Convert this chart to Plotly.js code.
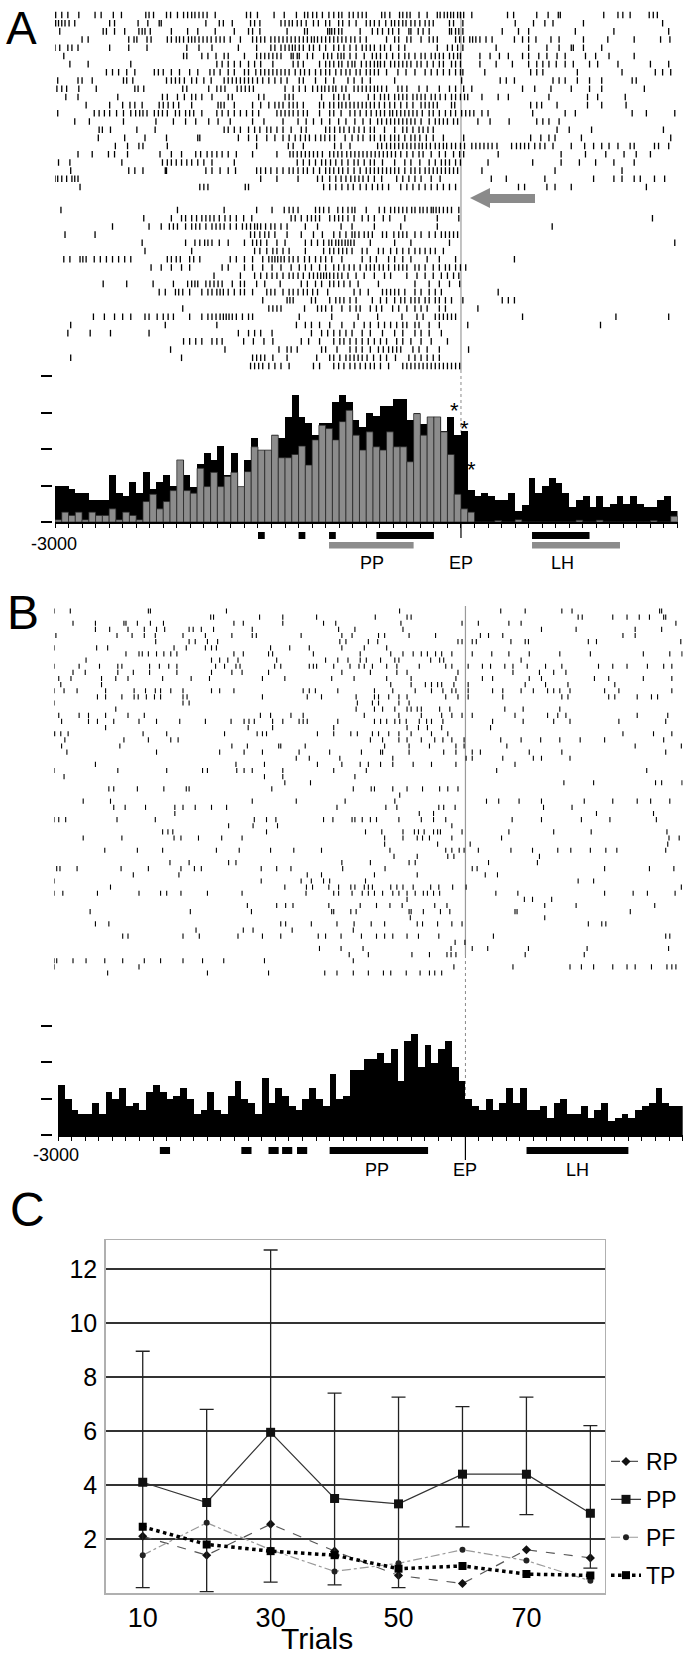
<!DOCTYPE html>
<html><head><meta charset="utf-8">
<script src="https://cdn.plot.ly/plotly-3.0.1.min.js"></script>
<style>html,body{margin:0;padding:0;background:#fff}#chart{width:685px;height:1658px}</style>
</head><body><div id="chart"></div>
<script>
// ---------------- DATA ----------------
const binStart = -3000, binWidth = 50;   // histogram bins (ms)
const histA_black = [9.9,9.9,9.0,7.9,7.9,5.9,5.9,5.9,12.9,7.9,7.0,10.9,7.9,13.8,9.0,10.9,12.9,9.9,17.0,12.9,
9.7,15.9,18.8,17.0,20.8,12.9,18.8,9.7,17.0,22.9,19.7,19.7,23.8,22.9,28.8,34.9,28.8,27.0,23.8,27.0,
27.0,32.9,34.9,32.9,27.9,26.1,29.9,29.1,31.8,31.8,33.8,33.8,27.9,29.9,26.8,28.8,28.8,24.9,28.8,23.8,
24.9,8.8,7.0,7.9,7.0,5.9,5.9,7.9,2.9,4.7,12.0,7.9,9.9,12.0,10.6,7.9,4.0,5.9,7.0,4.0,
7.0,4.0,4.9,7.0,4.9,7.0,4.9,4.0,4.0,5.9,7.0,2.9];
const histA_gray = [0.6,2.7,1.8,2.7,0.6,2.7,1.8,1.8,3.6,0.6,2.7,1.8,0.6,5.6,7.6,3.6,5.6,8.6,17.0,8.6,
7.9,14.7,9.7,13.6,9.7,12.5,13.6,9.7,13.8,20.6,19.7,19.7,23.8,17.6,17.6,18.5,20.8,15.6,22.5,26.5,
25.6,22.5,27.5,30.6,23.8,19.7,24.7,20.6,19.7,24.7,20.6,20.6,16.5,29.7,23.8,28.8,28.8,24.7,18.5,7.6,
3.6,2.7,0,0,0,0.4,0,0,0.6,0,0,0,0,0,0,0,0,0.5,0,0,
0.5,0,0,0,0,0,0,0,0.4,0,0,1.6];
const histB = [13.8,9.8,6.8,5.9,5.9,8.8,5.9,11.8,9.8,12.9,7.9,8.8,6.8,11.8,13.8,11.8,9.8,10.8,12.9,9.8,
5.9,6.8,11.8,6.8,5.9,10.8,14.8,9.8,8.8,5.9,15.8,8.8,12.9,10.8,7.9,6.8,9.8,12.9,9.8,7.9,
16.8,9.8,10.8,17.9,17.9,20.9,20.9,22.7,19.8,23.8,14.8,25.9,27.7,18.8,24.8,19.8,23.8,25.9,18.8,14.8,
9.8,7.9,6.8,9.8,6.8,8.8,12.9,8.8,12.9,6.8,6.8,7.9,4.8,8.8,9.8,5.9,5.9,7.9,4.8,6.8,
8.8,3.8,4.8,5.9,4.8,6.8,7.9,8.8,12.9,8.8,7.9,7.9];

// significance intervals (ms)
const sigA_black = [[-1500,-1450],[-1200,-1150],[-975,-925],[-625,-200],[525,950]];
const sigA_gray = [[-975,-350],[525,1175]];
const sigB = [[-2250,-2175],[-1650,-1575],[-1450,-1375],[-1350,-1275],[-1240,-1165],[-1000,-275],[450,1200]];

// raster spike times (ms from EP), one array per trial
const rasterA1 = [
[-2995,-2950,-2905,-2824,-2704,-2659,-2569,-2509,-2329,-2305,-2272,-2176,-2146,-2095,-2050,-2020,-1990,-1966,-1936,-1906,-1876,-1816,-1585,-1555,-1504,-1381,-1306,-1216,-1156,-1132,-1096,-1066,-1024,-976,-940,-904,-880,-826,-796,-760,-730,-700,-586,-562,-526,-454,-430,-400,-376,-310,-250,-175,-154,-124,-100,-76,-55,-25,-4,20,80,344,389,560,644,719,734,1055,1160,1196,1250,1391,1421,1451],
[-2995,-2974,-2950,-2926,-2896,-2854,-2596,-2560,-2386,-2314,-2230,-2215,-1885,-1786,-1756,-1690,-1555,-1525,-1486,-1330,-1300,-1270,-1246,-1210,-1180,-1144,-1090,-1054,-1000,-970,-904,-874,-826,-775,-700,-670,-640,-604,-556,-514,-490,-460,-430,-406,-370,-340,-304,-265,-235,-205,-85,-55,14,401,536,620,680,905,1490],
[-2965,-2644,-2620,-2560,-2485,-2380,-2356,-2335,-2296,-2140,-2020,-1945,-1816,-1675,-1570,-1540,-1486,-1285,-1156,-1135,-985,-970,-955,-934,-904,-880,-745,-655,-616,-580,-535,-505,-460,-385,-370,-316,-280,-235,-85,-70,-40,-16,14,305,425,500,845,1130,1535],
[-2800,-2755,-2455,-2416,-2395,-2320,-2290,-2170,-2140,-2104,-2080,-2050,-2014,-1990,-1966,-1936,-1906,-1876,-1846,-1810,-1780,-1750,-1705,-1630,-1540,-1510,-1480,-1450,-1405,-1375,-1345,-1315,-1285,-1255,-1225,-1195,-1165,-1135,-1105,-1084,-1060,-1030,-1000,-970,-940,-910,-880,-850,-814,-784,-745,-700,-550,-490,-460,-400,-370,-295,-235,-205,-175,-40,-10,20,65,86,110,140,185,230,395,455,500,554,665,725,905,1085,1280,1475,1544],
[-3000,-2965,-2905,-2875,-2830,-2596,-2455,-2320,-2026,-1936,-1840,-1645,-1510,-1405,-1375,-1330,-1300,-1270,-1246,-1225,-1195,-1165,-1120,-1090,-1045,-1000,-940,-904,-865,-820,-775,-730,-700,-670,-640,-595,-565,-520,-460,-415,-175,-100,-64,-25,14,260,500,635,725,815,830,905,1040],
[-2935,-2050,-2026,-1915,-1870,-1810,-1750,-1720,-1600,-1510,-1480,-1450,-1420,-1390,-1360,-1330,-1255,-1240,-1210,-1195,-1135,-1096,-1015,-985,-955,-910,-886,-865,-820,-775,-715,-655,-625,-595,-550,-505,-460,-415,-385,-340,-295,-265,-220,-190,-160,-130,-85,-55,-25,-4,140,215,284,350,455,500,575,635,710,770,920,995,1094,1280],
[-2890,-2755,-2440,-1804,-1765,-1720,-1675,-1630,-1570,-1525,-1480,-1390,-1240,-1204,-1165,-1045,-1000,-970,-940,-904,-880,-835,-805,-784,-736,-700,-670,-640,-616,-595,-565,-520,-490,-460,-430,-400,-370,-325,-295,-250,-205,-160,-130,-70,-40,-4,140,260,380,500,560,605,650,704,770,830,950,1010,1160,1400,1535],
[-2620,-2575,-2530,-2470,-2410,-2266,-2236,-2200,-2140,-2080,-2005,-1945,-1855,-1825,-1780,-1720,-1675,-1600,-1570,-1516,-1480,-1450,-1420,-1390,-1360,-1330,-1300,-1270,-1225,-1186,-1156,-1120,-1075,-1036,-1000,-970,-925,-886,-850,-820,-775,-745,-700,-670,-640,-610,-550,-466,-406,-340,-265,-220,-175,-130,-85,-40,-4,14,176,515,560,605,860,1190,1436,1490,1550],
[-2980,-2830,-2800,-2725,-2494,-2470,-2425,-2176,-2140,-2110,-2080,-2044,-1990,-1954,-1900,-1846,-1750,-1720,-1690,-1660,-1630,-1600,-1570,-1540,-1504,-1465,-1420,-1375,-1330,-1285,-1195,-1165,-1075,-1000,-940,-835,-790,-730,-670,-490,5,290,335,395,680,725,770,860,950,1040,1265,1295],
[-2986,-2950,-2914,-2824,-2695,-2410,-2386,-2344,-2056,-2026,-1864,-1804,-1774,-1744,-1654,-1624,-1594,-1564,-1534,-1300,-1240,-1195,-1150,-1096,-1060,-1030,-1006,-976,-946,-925,-880,-850,-790,-760,-730,-700,-670,-640,-616,-586,-550,-466,-436,-400,-310,-250,-160,-85,-40,20,80,455,545,665,815,950,1040,1355],
[-2920,-2830,-2536,-2206,-2170,-2095,-2044,-1990,-1960,-1915,-1840,-1720,-1690,-1495,-1456,-1300,-1270,-1240,-1030,-940,-904,-865,-826,-685,-640,-595,-565,-535,-490,-460,-430,-400,-355,-325,-295,-265,-220,-190,-154,-115,-70,-40,-4,26,50,155,275,350,650,935,1010,1214],
[-2770,-2596,-2500,-2446,-2410,-2356,-2230,-2200,-2164,-2125,-2086,-1990,-1795,-1774,-1750,-1675,-1540,-1480,-1420,-1375,-1345,-1315,-1270,-1240,-1210,-1165,-1045,-1015,-970,-940,-904,-880,-850,-820,-790,-760,-730,-700,-670,-640,-604,-565,-526,-490,-445,-400,-355,-295,-265,-235,-205,-175,-70,-46,515,560,596,710,935,1040,1220],
[-2980,-2710,-2674,-2635,-2596,-2545,-2494,-2440,-2404,-2374,-2350,-2320,-2266,-2236,-2206,-2170,-2110,-2080,-2035,-2005,-1975,-1915,-1804,-1765,-1720,-1675,-1630,-1585,-1540,-1495,-1360,-1330,-1300,-1270,-1240,-1204,-1165,-1135,-1045,-970,-940,-886,-820,-784,-745,-700,-664,-625,-595,-565,-526,-505,-475,-445,-415,-385,-355,-325,-286,-235,-205,-160,-115,-76,-40,5,35,65,95,155,200,530,770,845,1265,1370,1580],
[-2854,-2746,-2494,-2254,-2125,-2035,-1960,-1864,-1795,-1705,-1540,-1456,-1315,-1204,-1144,-1090,-1030,-970,-904,-850,-784,-724,-670,-616,-586,-550,-520,-490,-460,-430,-400,-370,-340,-295,-235,-190,-160,-130,-100,-55,-25,125,215,356,560,605,650,725],
[-2674,-2650,-2590,-2395,-2260,-1750,-1720,-1675,-1630,-1570,-1525,-1486,-1435,-1405,-1360,-1315,-1255,-1180,-1144,-1000,-970,-934,-895,-865,-826,-790,-754,-715,-670,-640,-565,-490,-430,-400,-355,-310,-280,-244,-205,710,800,965,1496],
[-2680,-2485,-2335,-2176,-1945,-1930,-1645,-1570,-1510,-1435,-1375,-1315,-1270,-1225,-1186,-1150,-1120,-1075,-1036,-1006,-970,-934,-856,-805,-760,-724,-670,-640,-595,-565,-520,-490,-460,-415,-370,-340,-304,-256,-205,-130,20,515,590,650,695,890,1550],
[-2554,-2464,-2380,-2350,-2170,-1510,-1276,-1240,-1165,-934,-886,-820,-616,-586,-550,-520,-490,-460,-430,-400,-370,-340,-310,-286,-256,-226,-190,-160,-130,-106,-70,-40,-4,26,80,110,140,170,200,230,266,374,410,440,470,500,545,584,620,680,815,914,980,1040,1094,1160,1250,1280,1430,1460,1535],
[-2830,-2725,-2605,-2560,-2464,-2224,-2140,-2065,-1960,-1924,-1876,-1840,-1804,-1765,-1720,-1660,-1540,-1360,-1264,-1240,-1210,-1180,-1150,-1120,-1090,-1060,-1024,-970,-940,-910,-880,-844,-814,-784,-754,-724,-694,-664,-634,-604,-574,-544,-514,-484,-445,-400,-355,-310,-280,-220,-160,-115,-55,-10,20,275,740,920,1070,1205,1295,1400],
[-2974,-2890,-2506,-2206,-2170,-2140,-2104,-2065,-2026,-1990,-1945,-1900,-1840,-1675,-1210,-1165,-1120,-1075,-1030,-1000,-964,-925,-880,-835,-790,-760,-715,-670,-640,-580,-490,-415,-370,-304,-235,-190,-145,-115,-85,-40,-4,200,530,740,875,995,1130,1280],
[-2884,-2455,-2410,-2350,-2185,-2176,-1885,-1840,-1780,-1720,-1666,-1510,-1480,-1444,-1405,-1360,-1315,-1270,-1240,-1204,-1165,-1135,-1090,-1045,-1000,-970,-940,-904,-874,-835,-790,-745,-700,-670,-640,-610,-580,-550,-520,-490,-460,-415,-370,-340,-304,-265,-235,-205,-175,-145,-115,-85,-55,-25,155,695,1190],
[-3000,-2980,-2950,-2914,-2875,-2854,-2830,-1480,-1360,-1204,-1060,-1024,-970,-925,-886,-850,-814,-784,-754,-724,-685,-640,-586,-475,-430,-385,-340,-295,-220,-154,224,335,620,980,1130,1190,1280,1325,1430,1505],
[-2815,-1930,-1900,-1870,-1594,-1570,-1015,-970,-925,-880,-835,-796,-745,-700,-655,-616,-580,-535,-445,-400,-355,-310,-265,-220,-175,-130,-85,-40,425,470,635,695,815,1370]
];
const rasterA2 = [
[-2956,-2095,-1750,-1510,-1396,-1306,-1270,-1240,-1204,-1075,-1045,-1015,-976,-910,-874,-835,-805,-784,-700,-604,-565,-520,-490,-460,-430,-400,-364,-340,-304,-280,-250,-220,-205,-184,-160,-130,-100,-70,-16],
[-2344,-2140,-2065,-2035,-1990,-1954,-1915,-1885,-1855,-1825,-1786,-1744,-1705,-1660,-1606,-1546,-1255,-1225,-1180,-1135,-1105,-1075,-1045,-970,-934,-904,-874,-835,-790,-730,-685,-640,-574,-526,-415,-175,-16,1415],
[-2575,-2305,-2215,-2155,-2125,-2095,-2035,-1990,-1960,-1930,-1885,-1840,-1810,-1780,-1750,-1705,-1660,-1615,-1585,-1555,-1525,-1504,-1480,-1444,-1405,-1375,-1330,-1285,-1150,-1060,-886,-805,-640,-445,-175,674],
[-2926,-2704,-1555,-1525,-1486,-1450,-1420,-1375,-1285,-1180,-1090,-1024,-940,-895,-850,-805,-784,-754,-715,-685,-655,-580,-550,-496,-460,-430,-400,-340,-295,-235,-190,-145,-115,-85,-55,-25],
[-2356,-2035,-1966,-1930,-1894,-1870,-1840,-1786,-1720,-1600,-1540,-1510,-1480,-1435,-1360,-1300,-1150,-1105,-1060,-1015,-976,-955,-925,-904,-880,-856,-835,-814,-790,-670,-490,-370,-85,1580],
[-2335,-1990,-1525,-1486,-1435,-1390,-1360,-1315,-1270,-1150,-1015,-970,-940,-904,-874,-844,-805,-730,-694,-610,-574,-520,-475,-430,-385,-340,-304,-265,-226,-190,-130],
[-2935,-2890,-2815,-2794,-2770,-2710,-2665,-2620,-2575,-2530,-2485,-2440,-2170,-2140,-2104,-2074,-2005,-1975,-1930,-1705,-1660,-1600,-1540,-1465,-1420,-1396,-1375,-1354,-1330,-1306,-1270,-1240,-1204,-1156,-1120,-1075,-1036,-1000,-955,-880,-730,-670,-625,-535,-490,-430,-370,-250,-160,-40,395],
[-2290,-2215,-2140,-2065,-2005,-1765,-1720,-1600,-1540,-1465,-1396,-1330,-1255,-1195,-1150,-1105,-1045,-1000,-940,-904,-865,-826,-790,-745,-700,-670,-640,-604,-574,-535,-490,-460,-430,-400,-340,-310,-265,-205,-160,-115,-85,-40,-4,35],
[-1825,-1630,-1525,-1480,-1435,-1396,-1360,-1315,-1270,-1240,-1204,-1165,-1120,-1090,-1060,-1036,-1015,-994,-970,-940,-910,-880,-835,-775,-715,-640,-565,-520,-400,-325,-265,-205,-145,-100,-55,-16],
[-2644,-2470,-2275,-2125,-2020,-1990,-1966,-1945,-1885,-1855,-1825,-1795,-1765,-1690,-1630,-1600,-1510,-1450,-1336,-1180,-1135,-1075,-1030,-970,-940,-904,-865,-820,-760,-610,-340,-235,-160,-85,-10],
[-2230,-2185,-2110,-2086,-2056,-2005,-1915,-1870,-1840,-1804,-1780,-1756,-1720,-1675,-1630,-1600,-1540,-1435,-1405,-1375,-1315,-1270,-1240,-1204,-1165,-1135,-1096,-1060,-985,-790,-745,-685,-580,-550,-520,-490,-460,-415,-340,-295,-235,-190,-145,275],
[-1465,-1285,-1264,-1240,-1105,-1075,-970,-925,-895,-865,-820,-775,-655,-595,-550,-490,-445,-415,-370,-340,-310,-265,-235,-190,-160,-115,-70,14,305,350,395],
[-2056,-1420,-1390,-1360,-1330,-1156,-1060,-1030,-1000,-955,-880,-820,-775,-745,-670,-625,-586,-505,-460,-400,-340,-295,-250,-160,-115,125],
[-2716,-2635,-2560,-2500,-2440,-2335,-2305,-2245,-2200,-2164,-2125,-2005,-1915,-1870,-1840,-1810,-1780,-1756,-1735,-1714,-1690,-1660,-1615,-1570,-1540,-1195,-955,-760,-616,-436,-325,-280,-190,-160,-130,-100,-70,-40,455,1145,1535],
[-2884,-2185,-1804,-1216,-1150,-1105,-1045,-970,-880,-790,-715,-670,-610,-565,-520,-475,-430,-400,-340,-310,-235,-160,50,1031],
[-2905,-2740,-2590,-2305,-1645,-1570,-1525,-1480,-1396,-1105,-1030,-985,-940,-895,-850,-805,-730,-670,-580,-490,-430,-340,-295,-235,-145],
[-2050,-2005,-1960,-1915,-1840,-1804,-1765,-1606,-1534,-1456,-1390,-1180,-1126,-1045,-940,-895,-865,-820,-775,-730,-685,-640,-595,-550,-475,-430,-370,-295,-220,-100],
[-2146,-1744,-1345,-1285,-1255,-1210,-1030,-1000,-916,-820,-775,-730,-670,-610,-574,-535,-505,-475,-445,-355,-310,-250,-160,56],
[-2884,-2065,-1540,-1510,-1480,-1450,-1390,-1285,-1066,-970,-940,-895,-850,-820,-790,-760,-730,-694,-646,-595,-550,-484,-385,-340,-295,-250,-205,-160],
[-1555,-1525,-1495,-1465,-1420,-1375,-1330,-1270,-1090,-1045,-940,-904,-865,-820,-784,-745,-706,-670,-640,-595,-535,-430,-400,-370,-340,-310,-280,-250,-220,-190,-160,-130,-100,-70,-40,-10]
];
const rasterB = [
[-3030,-2910,-2335,-2320,-1760,-485,260,440,710,785,1430,1445],
[-1876,-1855,-1516,-1345,-1096,-664,-430,-400,830,860,1085,1190,1280,1355,1460,1475],
[-2890,-2725,-2515,-2500,-2416,-2320,-2224,-1705,-1636,-1345,-1045,-955,-475,-25,95,320,410,1550],
[-2725,-2620,-2485,-2365,-2275,-2215,-2035,-2005,-1945,-1855,-1570,-934,-814,-460,560,815,1250,1445],
[-3016,-2566,-2455,-2365,-2284,-2080,-1915,-1720,-1570,-1540,-1210,-910,-835,-640,-595,-415,-220,110,170,275,1160,1250],
[-2281,-2035,-1990,-1900,-1825,-925,-880,-715,-646,-55,-25,50,80,335,440,464,905,965,1586],
[-3030,-2716,-2635,-2146,-2056,-1915,-1870,-1834,-1435,-1294,-1150,-910,-745,-580],
[-2500,-2404,-2380,-2335,-2275,-2221,-2170,-2125,-1705,-1636,-1450,-1420,-1120,-775,-550,-460,-385,-325,-280,-220,-175,-100,50,194,320,470,695,920,1310,1505,1595],
[-2794,-1870,-1810,-1750,-1675,-1390,-1030,-940,-865,-775,-730,-625,-520,-490,-256,-190,-160,410],
[-3030,-2845,-2695,-2560,-2530,-2326,-2254,-2185,-2125,-1840,-1774,-1690,-1660,-1405,-1360,-1150,-1120,-1096,-970,-850,-784,-745,-685,-580,-505,-340,-145,-100,20,125,185,290,350,455,590,710,980,1085,1190,1340,1460,1520],
[-2890,-2800,-2560,-2446,-2326,-2125,-1870,-1720,-1645,-1450,-910,-700,-505,-430,-55,350,545,650,740],
[-2995,-2905,-2680,-2575,-2485,-2230,-2020,-1885,-1495,-1330,-985,-820,-580,-400,-70,125,200,470,560,950,1055,1310,1520],
[-2980,-2680,-550,-400,-295,-250,-205,-175,-85,20,440,590,755,1100],
[-3030,-2956,-2860,-2650,-2440,-2356,-2284,-2245,-2170,-2080,-1870,-1810,-1705,-1195,-1150,-1105,-940,-670,-535,-370,-250,-166,-100,-70,20,200,275,410,500,605,650,695,770,1025,1130,1520],
[-2710,-2650,-2530,-2440,-2410,-2350,-2290,-2245,-2080,-2050,-1495,-1165,-1060,-805,-670,-640,-565,-490,-430,-145,-55,20,275,710,755,1055,1100,1265,1370,1415],
[-3030,-2080,-2035,-796,-685,-640,-490,-415],
[-2575,-805,-670,-610,-520,-430,-400,-355,-325,-190,-115,290,425,695],
[-2995,-2845,-2776,-2650,-2485,-2365,-1510,-1435,-1285,-1195,-745,-490,-325,-175,-100,-25,50,365,605,680,740,1265,1490],
[-2974,-2776,-2710,-2590,-2404,-2275,-2104,-1915,-1726,-1630,-1594,-1555,-1420,-1345,-1225,-1195,-1165,-940,-670,-625,-580,-520,-484,-436,-340,-286,-250,-166,200,425,650,770,1130,1475],
[-2650,-1600,-1420,-970,-430,-346,-280,-175,185],
[-3025,-2980,-2926,-2374,-2200,-1774,-1534,-1495,-1465,-1090,-970,-844,-796,-685,-640,-565,-490,-400,-250,-130,1160,1385,1520],
[-2950,-2515,-2335,-2170,-2116,-700,-610,-490,-430,-325,-226,-166,-100,-10,260,410,554,695,845,1025,1460],
[-2974,-2545,-1720,-1606,-1375,-1360,-1180,-595,-415,-265,-70,-10,305,1250,1590],
[-2935,-2275,-1810,-1630,-1495,-1225,-1000,-766,-625,-610,-415,-160,-70,50,110,470,710,1475],
[-1246,-1150,-925,-535,5,50,275,500,560,770],
[-2725,-1690,-1480,-1090,-910,-775,-715,-625,-535,-385,-250,-70,365],
[-3030,-2560,-2200,-1936,-1900,-1684,-1630,-1570,-1345,-970,-730,230,1335],
[-2956,-1480,-1345,-814],
[-1330,-1141,725,944,1400,1445,1595],
[-2626,-2590,-2416,-2221,-2056,-2035,-1426,-826,-694,-670,-535,-430,-316,-190,-130,-55],
[-484],
[-2815,-2614,-1570,-1246,-886,-520,155,245,395,560,875,1085,1265,1364,1505],
[-2590,-2506,-2356,-2140,-2080,-1990,-1870,-1759,-946,-586,-505,-196,-160,-76,575,785],
[-2140,-340,-235,965,1385],
[-3030,-2995,-2944,-2566,-2284,-1555,-1465,-1396,-1045,-976,-835,-814,-760,-700,-655,-490,-325,-235,-145,344,560,854,1064,1406],
[-1744,-1564,-1384,-100],
[-2230,-2191,-2155,-1465,-736,-616,-460,-376,-346,-304,-235,-205,-184,-25,320,650,926,1484],
[-2815,-2530,-2146,-2095,-1966,-1795,-1645,-595,-460,-355,-316,-265,-100,266,1499,1574],
[-595,-205,35,1490],
[-2656,-2416,-2230,-1834,-1666,-1435,-1264,-1060,-556,-145,-100,-46,-10,95,335,494,680,776,920,1034,1115,1475],
[-526,-355,-130,-85,545],
[-2176,-2035,-1744,-1690,-910,-700,-415,-370,170,530],
[-3010,-2986,-2860,-2536,-2335,-2095,-1996,-1945,-1504,-1390,-1285,-904,-592,50,86,1025,1355,1535],
[-2446,-2110,-1165,-1060,-670,-355,146,236],
[-3030,-1504,-1210,-1135,-1045,-1000,-736,830,944],
[-2614,-1330,-1171,-1126,-1006,-934,-844,-814,-745,-715,-685,-550,-505,-460,-385,-256,-196,-94,5,1590],
[-3030,-2965,-2710,-2404,-2245,-2200,-2095,-1900,-1645,-1174,-970,-934,-835,-760,-715,-670,-610,-535,-490,-430,-370,-310,-280,-235,-190,224,386,1025,1235,1340,1544],
[-430,434,494,635],
[-1606,-1390,-1324,-1270,-1006,-775,-655,-556,-466,-226,-136,584,815,1394],
[-2764,-2026,-1576,-985,-970,-844,-805,-415,-400,-310,-184,-115,365,380,1214],
[-406,584],
[-2725,-2626,-1360,-1324,-1135,-946,-820,-694,-595,-355,-316,-205,-100,-25,905,1004,1034],
[-1984,-1636,-1564,-1276,-826],
[-2524,-2485,-2080,-1960,-1675,-1495,-1360,-1084,-1030,-916,-766,-655,-595,-535,-430,-346,-196,206,1475,1505],
[-76,-4],
[-1075,-916,-754,-106,50,164,464,896,1496],
[-856,-715,-394,-265,-136,-106,-70,440,875],
[-3030,-3010,-2890,-2794,-2656,-2524,-2365,-2245,-2080,-1936,-1780,-1480,-826],
[-3030,-2404,-85,350,770,854,944,1085,1190,1250,1370,1484,1520,1550],
[-2635,-1900,-1450,-1036,-946,-826,-715,-604,-550,-436,-334,-265,-226,-175]
];

// panel C
const trials = [10,20,30,40,50,60,70,80];
const RP = [2.1,1.4,2.55,1.55,0.65,0.35,1.6,1.3];
const PP = [4.1,3.35,5.95,3.5,3.3,4.4,4.4,2.95];
const PP_hi = [8.95,6.8,12.7,7.4,7.25,6.9,7.25,6.2];
const PP_lo = [0.2,0.05,0.4,0.3,0.2,2.45,2.9,0.92];
const PF = [1.4,2.6,1.6,0.8,1.1,1.6,1.2,0.45];
const TP = [2.45,1.8,1.55,1.4,0.9,1.0,0.7,0.65];
const xTicksC = [10,30,50,70];
const yTicksC = [2,4,6,8,10,12];

// ---------------- LAYOUT HELPERS ----------------
const W = 685, H = 1658;
const px = p => p / W;
const py = p => 1 - p / H;
const FONT = 'Liberation Sans, Arial, sans-serif';
const NARROW = 'Liberation Sans Narrow, Arial Narrow, Liberation Sans, sans-serif';

function rowAxis(topPx, botPx, n, pad) {
  const s = (botPx - topPx) / (n - 1);
  return {domain: [py(botPx + pad * s), py(topPx - pad * s)], range: [n - 1 + pad, -pad],
          visible: false, showgrid: false, zeroline: false, fixedrange: true};
}
function rasterTrace(rows, xa, ya, half, w) {
  const xs = [], ys = [];
  rows.forEach((r, i) => r.forEach(t => { xs.push(t, t, null); ys.push(i - half, i + half, null); }));
  return {type: 'scatter', mode: 'lines', x: xs, y: ys, xaxis: xa, yaxis: ya,
          line: {color: '#000', width: w}, hoverinfo: 'skip', showlegend: false};
}
const centers = arr => arr.map((_, i) => binStart + binWidth * (i + 0.5));

const hidden = {visible: false, showgrid: false, zeroline: false, fixedrange: true};

const traces = [
  rasterTrace(rasterA1, 'x', 'y', 0.4, 1.3),
  rasterTrace(rasterA2, 'x', 'y2', 0.4, 1.3),
  {type: 'bar', x: centers(histA_black), y: histA_black, width: binWidth, xaxis: 'x2', yaxis: 'y3',
   marker: {color: '#000', line: {width: 0}}, showlegend: false, hoverinfo: 'skip'},
  {type: 'bar', x: centers(histA_gray), y: histA_gray, width: binWidth, xaxis: 'x2', yaxis: 'y3',
   marker: {color: '#8c8c8c', line: {width: 0.7, color: '#222'}}, showlegend: false, hoverinfo: 'skip'},
  rasterTrace(rasterB, 'x3', 'y4', 0.42, 1.1),
  {type: 'bar', x: centers(histB), y: histB, width: binWidth, xaxis: 'x4', yaxis: 'y5',
   marker: {color: '#000', line: {width: 0}}, showlegend: false, hoverinfo: 'skip'},
  // panel C
  {type: 'scatter', mode: 'lines+markers', name: 'RP', x: trials, y: RP, xaxis: 'x5', yaxis: 'y6',
   line: {color: '#555', width: 1.2, dash: 'dash'}, marker: {symbol: 'diamond', size: 7, color: '#111'}, legendgroup: 'a'},
  {type: 'scatter', mode: 'lines+markers', name: 'PP', x: trials, y: PP, xaxis: 'x5', yaxis: 'y6',
   line: {color: '#333', width: 1.2}, marker: {symbol: 'square', size: 9, color: '#111'}, legendgroup: 'b',
   error_y: {type: 'data', symmetric: false, array: PP.map((v, i) => PP_hi[i] - v), arrayminus: PP.map((v, i) => v - PP_lo[i]),
             color: '#222', thickness: 1.3, width: 7}},
  {type: 'scatter', mode: 'lines+markers', name: 'PF', x: trials, y: PF, xaxis: 'x5', yaxis: 'y6',
   line: {color: '#9a9a9a', width: 1.2, dash: 'dashdot'}, marker: {symbol: 'circle', size: 6, color: '#222'}, legendgroup: 'c'},
  {type: 'scatter', mode: 'lines+markers', name: 'TP', x: trials, y: TP, xaxis: 'x5', yaxis: 'y6',
   line: {color: '#000', width: 3.5, dash: 'dot'}, marker: {symbol: 'square', size: 8, color: '#000'}, legendgroup: 'd'}
];

const histXAxis = (dom, rng, anchor) => ({domain: dom, range: rng, anchor: anchor, showline: true, linecolor: '#000', linewidth: 1.5,
  ticks: 'outside', tick0: -3000, dtick: 100, ticklen: 4, tickwidth: 1, tickcolor: '#000', showticklabels: false,
  showgrid: false, zeroline: false, fixedrange: true});
const histYAxis = (botPx, topPx, maxV) => ({domain: [py(botPx), py(topPx)], range: [0, maxV], anchor: 'free', position: px(52),
  showline: false, ticks: 'outside', ticklen: 11, tickwidth: 2, tickcolor: '#000', tickvals: [0, 10, 20, 30, 40],
  showticklabels: false, showgrid: false, zeroline: false, fixedrange: true});

const shapes = [];
// EP reference lines
shapes.push({type: 'line', xref: 'x', yref: 'paper', x0: 0, x1: 0, y0: py(12), y1: py(370), line: {color: '#9a9a9a', width: 1.2}, layer: 'below'});
shapes.push({type: 'line', xref: 'x', yref: 'paper', x0: 0, x1: 0, y0: py(370), y1: py(522), line: {color: '#8a8a8a', width: 1, dash: 'dot'}, layer: 'below'});
shapes.push({type: 'line', xref: 'x2', yref: 'paper', x0: 0, x1: 0, y0: py(522), y1: py(538), line: {color: '#000', width: 1.2}});
shapes.push({type: 'line', xref: 'x3', yref: 'paper', x0: 0, x1: 0, y0: py(606), y1: py(955), line: {color: '#9a9a9a', width: 1.2}, layer: 'below'});
shapes.push({type: 'line', xref: 'x3', yref: 'paper', x0: 0, x1: 0, y0: py(955), y1: py(1135), line: {color: '#8a8a8a', width: 1, dash: 'dot'}, layer: 'below'});
shapes.push({type: 'line', xref: 'x4', yref: 'paper', x0: 0, x1: 0, y0: py(1135), y1: py(1160), line: {color: '#000', width: 1.2}});
// significance bars
sigA_black.forEach(s => shapes.push({type: 'rect', xref: 'x2', yref: 'paper', x0: s[0], x1: s[1], y0: py(539), y1: py(532), fillcolor: '#000', line: {width: 0}}));
sigA_gray.forEach(s => shapes.push({type: 'rect', xref: 'x2', yref: 'paper', x0: s[0], x1: s[1], y0: py(548.5), y1: py(542), fillcolor: '#8c8c8c', line: {width: 0}}));
sigB.forEach(s => shapes.push({type: 'rect', xref: 'x4', yref: 'paper', x0: s[0], x1: s[1], y0: py(1154), y1: py(1147), fillcolor: '#000', line: {width: 0}}));
// grey arrow in panel A
const ap = [[470,198],[490,188],[490,194],[535,194],[535,203],[490,203],[490,208]];
shapes.push({type: 'path', xref: 'paper', yref: 'paper',
  path: 'M' + ap.map(p => px(p[0]).toFixed(5) + ',' + py(p[1]).toFixed(5)).join(' L') + ' Z',
  fillcolor: '#8a8a8a', line: {width: 0}});

const ann = (text, x, y, size, extra) => Object.assign({text: text, x: px(x), y: py(y), xref: 'paper', yref: 'paper',
  showarrow: false, xanchor: 'center', yanchor: 'middle', font: {size: size, family: FONT, color: '#000'}}, extra || {});

const annotations = [
  ann('A', 21, 0.5, 46, {yanchor: 'top'}), ann('B', 23, 612, 48), ann('C', 27, 1209, 48),
  ann('-3000', 54, 544, 18, {font: {size: 18, family: NARROW, color: '#000'}}),
  ann('PP', 372, 563, 18), ann('EP', 461, 563, 18), ann('LH', 562, 563, 18),
  ann('-3000', 56, 1155, 18, {font: {size: 18, family: NARROW, color: '#000'}}),
  ann('PP', 377, 1170, 18), ann('EP', 465, 1170, 18), ann('LH', 577, 1170, 18),
  ann('*', 454, 411, 22), ann('*', 464, 428, 22), ann('*', 471, 470, 22),
  ann('Trials', 317, 1657, 30, {yanchor: 'bottom'})
];

const layout = {
  width: W, height: H, autosize: false, margin: {l: 0, r: 0, t: 0, b: 0},
  paper_bgcolor: '#fff', plot_bgcolor: 'rgba(0,0,0,0)', barmode: 'overlay', bargap: 0,
  font: {family: FONT, color: '#000'},
  xaxis: Object.assign({}, hidden, {domain: [px(55), px(677.5)], range: [-3000, 1600], anchor: 'y'}),
  yaxis: Object.assign(rowAxis(15, 187, rasterA1.length, 0.6), {anchor: 'x'}),
  yaxis2: Object.assign(rowAxis(210, 366, rasterA2.length, 0.6), {anchor: 'x'}),
  xaxis2: histXAxis([px(55), px(677.5)], [-3000, 1600], 'y3'),
  yaxis3: histYAxis(522, 376, 40),
  xaxis3: Object.assign({}, hidden, {domain: [px(54), px(682.7)], range: [-3030, 1600], anchor: 'y4'}),
  yaxis4: Object.assign(rowAxis(611, 973, rasterB.length, 0.5), {anchor: 'x3'}),
  xaxis4: histXAxis([px(58), px(682.7)], [-3000, 1600], 'y5'),
  yaxis5: Object.assign(histYAxis(1135, 1026, 30), {tickvals: [0, 10, 20, 30]}),
  xaxis5: {domain: [px(105.7), px(604.7)], range: [4.21, 82.24], anchor: 'y6', tickvals: xTicksC, ticks: '',
           tickfont: {size: 27, family: FONT, color: '#000'}, showline: true, mirror: true, linecolor: '#b0b0b0', linewidth: 1.5,
           showgrid: false, zeroline: false, fixedrange: true},
  yaxis6: {domain: [py(1593), py(1240)], range: [0, 13.07], anchor: 'x5', tickvals: yTicksC, ticks: '',
           tickfont: {size: 25, family: FONT, color: '#000'}, showline: true, mirror: true, linecolor: '#b0b0b0', linewidth: 1.5,
           showgrid: true, gridcolor: '#333', gridwidth: 1.3, zeroline: false, fixedrange: true, ticklabelstandoff: 2},
  showlegend: true,
  legend: {x: px(606), y: py(1440), xanchor: 'left', yanchor: 'top', font: {size: 23, family: FONT, color: '#000'},
           bgcolor: 'rgba(0,0,0,0)', tracegroupgap: 5, itemwidth: 30},
  shapes: shapes, annotations: annotations
};

Plotly.newPlot('chart', traces, layout, {staticPlot: true, displayModeBar: false});
</script></body></html>
